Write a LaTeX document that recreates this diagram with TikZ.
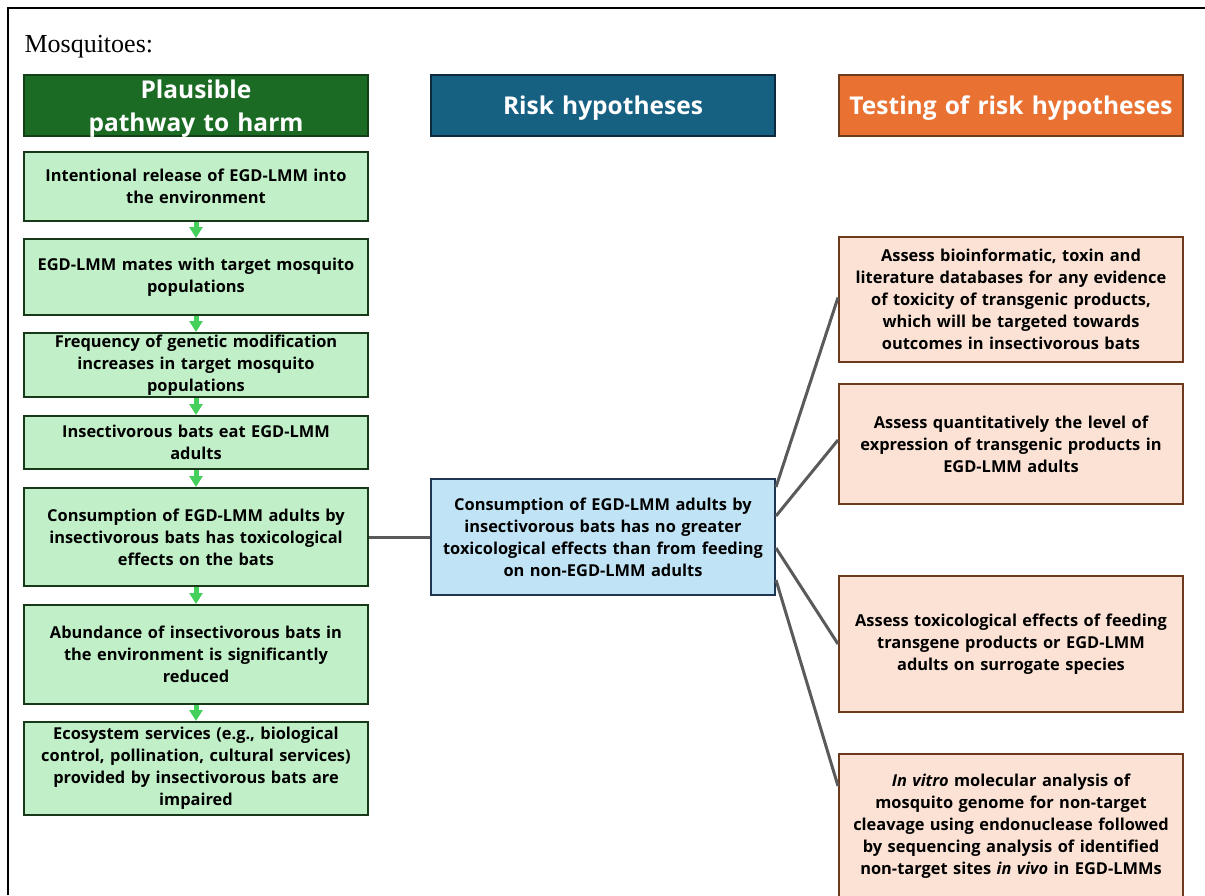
\documentclass[tikz,border=0pt]{standalone}
\usepackage{fontspec}
\setmainfont{Liberation Serif}
\newfontfamily\boxfont{Open Sans}
\usetikzlibrary{arrows.meta,calc}
\definecolor{gfill}{HTML}{C1F0C8}
\definecolor{gborder}{HTML}{17391A}
\definecolor{ghead}{HTML}{1B6B25}
\definecolor{gheadb}{HTML}{123F16}
\definecolor{bhead}{HTML}{166082}
\definecolor{bheadb}{HTML}{0E2A3E}
\definecolor{bfill}{HTML}{C0E4F5}
\definecolor{bborder}{HTML}{1D3550}
\definecolor{ohead}{HTML}{E97132}
\definecolor{oborder}{HTML}{6E3A1E}
\definecolor{ofill}{HTML}{FBE2D5}
\definecolor{garrowc}{HTML}{45D05C}
\definecolor{conn}{HTML}{5A5A5A}
\begin{document}
\begin{tikzpicture}[x=1pt,y=-1pt,
  boxbase/.style={line width=2pt, minimum width=344pt, inner sep=0pt, text width=342pt, align=center},
  hdr/.style={boxbase, minimum height=61pt},
  hdrtxt/.style={inner sep=0pt, text width=342pt, align=center, text=white, yshift=-3pt, font=\boxfont\bfseries\fontsize{24.5}{33}\selectfont},
  body/.style={boxbase, font=\boxfont\bfseries\fontsize{16.4}{22}\selectfont},
  gbox/.style={body, draw=gborder, fill=gfill},
  obox/.style={body, draw=oborder, fill=ofill},
  hbox/.style={body, draw=bborder, fill=bfill},
  garrow/.style={draw=garrowc, line width=5pt, -{Triangle[length=11pt,width=13pt]}, shorten >=0pt},
  conline/.style={draw=conn, line width=3pt}
]
\useasboundingbox (0,0) rectangle (1205,895);
\draw[line width=2pt] (8,895) -- (8,7.5) -- (1205,7.5);
\node[anchor=base west, font=\fontsize{26}{30}\selectfont] (title) at (21,52) {Mosquitoes:};

\node[hdr, draw=gheadb, fill=ghead] (h1) at (196,105.5) {};
\node[hdrtxt] (h1t) at (h1.center) {Plausible\\pathway to harm};
\node[hdr, draw=bheadb, fill=bhead] (h2) at (603,105.5) {};
\node[hdrtxt] (h2t) at (h2.center) {Risk hypotheses};
\node[hdr, draw=oborder, fill=ohead] (h3) at (1011,105.5) {};
\node[hdrtxt] (h3t) at (h3.center) {Testing of risk hypotheses};

\node[gbox, minimum height=69pt] (g1) at (196,186) {Intentional release of EGD-LMM into\\the environment};
\node[gbox, minimum height=76pt] (g2) at (196,277) {EGD-LMM mates with target mosquito\\populations};
\node[gbox, minimum height=64pt] (g3) at (196,365) {Frequency of genetic modification\\increases in target mosquito\\populations};
\node[gbox, minimum height=53pt] (g4) at (196,442.5) {Insectivorous bats eat EGD-LMM\\adults};
\node[gbox, minimum height=98pt] (g5) at (196,537) {Consumption of EGD-LMM adults by\\insectivorous bats has toxicological\\effects on the bats};
\node[gbox, minimum height=99pt] (g6) at (196,654.5) {Abundance of insectivorous bats in\\the environment is significantly\\reduced};
\node[gbox, minimum height=93pt] (g7) at (196,768.5) {Ecosystem services (e.g., biological\\control, pollination, cultural services)\\provided by insectivorous bats are\\impaired};

\draw[garrow] (g1.south) -- (g2.north);
\draw[garrow] (g2.south) -- (g3.north);
\draw[garrow] (g3.south) -- (g4.north);
\draw[garrow] (g4.south) -- (g5.north);
\draw[garrow] (g5.south) -- (g6.north);
\draw[garrow] (g6.south) -- (g7.north);

\node[hbox, minimum height=116pt] (hyp) at (603,537) {Consumption of EGD-LMM adults by\\insectivorous bats has no greater\\toxicological effects than from feeding\\on non-EGD-LMM adults};

\node[obox, minimum height=125pt] (t1) at (1011,299.5) {Assess bioinformatic, toxin and\\literature databases for any evidence\\of toxicity of transgenic products,\\which will be targeted towards\\outcomes in insectivorous bats};
\node[obox, minimum height=120pt] (t2) at (1011,444) {Assess quantitatively the level of\\expression of transgenic products in\\EGD-LMM adults};
\node[obox, minimum height=136pt] (t3) at (1011,644) {Assess toxicological effects of feeding\\transgene products or EGD-LMM\\adults on surrogate species};
\node[obox, minimum height=144pt] (t4) at (1011,826) {{\itshape In vitro} molecular analysis of\\mosquito genome for non-target\\cleavage using endonuclease followed\\by sequencing analysis of identified\\non-target sites {\itshape in vivo} in EGD-LMMs};

\draw[conline] (g5.east) -- (hyp.west);
\draw[conline] ([yshift=-9pt]hyp.north east) -- ([yshift=2pt]t1.west);
\draw[conline] ([yshift=-38pt]hyp.north east) -- ([yshift=4pt]t2.west);
\draw[conline] ([yshift=-70pt]hyp.north east) -- (t3.west);
\draw[conline] ([yshift=-102pt]hyp.north east) -- ([yshift=40pt]t4.west);
\end{tikzpicture}
\end{document}
